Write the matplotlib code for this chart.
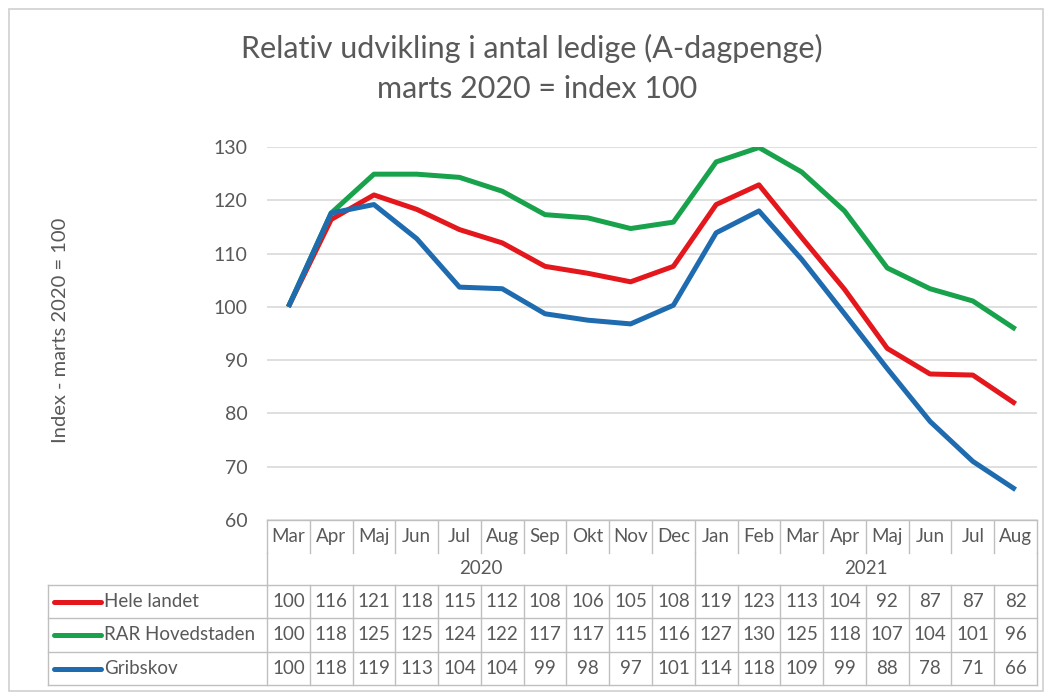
import matplotlib
matplotlib.use("Agg")
import matplotlib.pyplot as plt
from matplotlib.transforms import blended_transform_factory
from matplotlib.patches import Rectangle

plt.rcParams['font.family'] = ['Lato', 'DejaVu Sans']

# ---- data ----
months = ["Mar", "Apr", "Maj", "Jun", "Jul", "Aug", "Sep", "Okt", "Nov", "Dec",
          "Jan", "Feb", "Mar", "Apr", "Maj", "Jun", "Jul", "Aug"]
years = ["2020", "2021"]
year_counts = [10, 8]
series_names = ["Hele landet", "RAR Hovedstaden", "Gribskov"]
hele_landet = [100, 116.4, 121.0, 118.3, 114.5, 112.0, 107.6, 106.3, 104.7, 107.6,
               119.2, 122.9, 113.0, 103.3, 92.2, 87.4, 87.2, 81.8]
rar_hovedstaden = [100, 117.6, 124.9, 124.9, 124.3, 121.7, 117.3, 116.7, 114.7, 115.9,
                   127.2, 129.9, 125.3, 118.0, 107.3, 103.4, 101.1, 95.8]
gribskov = [100, 117.6, 119.2, 112.8, 103.7, 103.4, 98.7, 97.5, 96.8, 100.3,
            113.9, 118.0, 108.9, 98.7, 88.4, 78.5, 71.0, 65.7]
table_hele = [100, 116, 121, 118, 115, 112, 108, 106, 105, 108, 119, 123, 113, 104, 92, 87, 87, 82]
table_rar = [100, 118, 125, 125, 124, 122, 117, 117, 115, 116, 127, 130, 125, 118, 107, 104, 101, 96]
table_grib = [100, 118, 119, 113, 104, 104, 99, 98, 97, 101, 114, 118, 109, 99, 88, 78, 71, 66]
yticks = [60, 70, 80, 90, 100, 110, 120, 130]

colors = ["#E3171C", "#17A24B", "#1E6BB0"]
txt = "#595959"
grid = "#D9D9D9"

W, H = 1050, 692
fig = plt.figure(figsize=(W / 100, H / 100), dpi=100)

# overlay in pixel coords
ov = fig.add_axes([0, 0, 1, 1], zorder=0)
ov.set_xlim(0, W)
ov.set_ylim(H, 0)
ov.axis("off")
ov.add_patch(Rectangle((9, 9), W - 16, H - 10, fill=False, ec="#D0D0D0", lw=1.2))

# main axes: x 267..1037 px, y 147..520 px
L, R, T, B = 267, 1037, 147, 520
ax = fig.add_axes([L / W, 1 - B / H, (R - L) / W, (B - T) / H], zorder=2)
ax.patch.set_alpha(0)
x = list(range(len(months)))
for vals, c in zip([hele_landet, rar_hovedstaden, gribskov], colors):
    ax.plot(x, vals, color=c, lw=3.6, solid_joinstyle="round", solid_capstyle="butt")
ax.set_xlim(-0.5, len(months) - 0.5)
ax.set_ylim(60, 130)
ax.set_yticks(yticks)
ax.set_xticks([])
for s in ax.spines.values():
    s.set_visible(False)
ax.yaxis.grid(True, color=grid, lw=1.2)
ax.set_axisbelow(True)
ax.tick_params(axis="y", length=0, pad=14, labelsize=14, labelcolor=txt)

fig.text(60 / W, 1 - 330 / H, "Index - marts 2020 = 100", rotation=90,
         ha="center", va="center", fontsize=14.5, color=txt)

fig.text(532 / W, 1 - 48 / H, "Relativ udvikling i antal ledige (A-dagpenge)",
         ha="center", va="center", fontsize=22, color=txt)
fig.text(537 / W, 1 - 89 / H, "marts 2020 = index 100",
         ha="center", va="center", fontsize=22, color=txt)

# ---- data table ----
tr = blended_transform_factory(ax.transData, ov.transData)
lc = "#BFBFBF"
n = len(months)
top, mrow, yrow = 520, 553, 585
rows = [585, 618, 652, 685]
fs = 13.5

def hline(x0, x1, y, transform):
    ov.plot([x0, x1], [y, y], color=lc, lw=1, transform=transform, clip_on=False)

def vline(xv, y0, y1, transform):
    ov.plot([xv, xv], [y0, y1], color=lc, lw=1, transform=transform, clip_on=False)

# header
hline(-0.5, n - 0.5, top, tr)
for i in range(n + 1):
    vline(i - 0.5, top, mrow, tr)
for i, m in enumerate(months):
    ov.text(i, (top + mrow) / 2, m, ha="center", va="center", fontsize=fs, color=txt, transform=tr)
start = 0
bounds = [0]
for yname, cnt in zip(years, year_counts):
    ov.text(start + (cnt - 1) / 2, (mrow + yrow) / 2, yname, ha="center", va="center",
            fontsize=fs, color=txt, transform=tr)
    start += cnt
    bounds.append(start)
for b in bounds:
    vline(b - 0.5, mrow, yrow, tr)

# data rows
for r in rows:
    hline(48, R, r, ov.transData)
vline(48, rows[0], rows[-1], ov.transData)
for i in range(n + 1):
    vline(i - 0.5, rows[0], rows[-1], tr)
for k, (name, vals, c) in enumerate(zip(series_names, [table_hele, table_rar, table_grib], colors)):
    yc = (rows[k] + rows[k + 1]) / 2
    ov.plot([54, 101], [yc, yc], color=c, lw=3.6, solid_capstyle="round")
    ov.text(104, yc, name, ha="left", va="center", fontsize=fs, color=txt)
    for i, v in enumerate(vals):
        ov.text(i, yc, str(v), ha="center", va="center", fontsize=fs, color=txt, transform=tr)

fig.savefig("out.png", dpi=100, facecolor="white")
